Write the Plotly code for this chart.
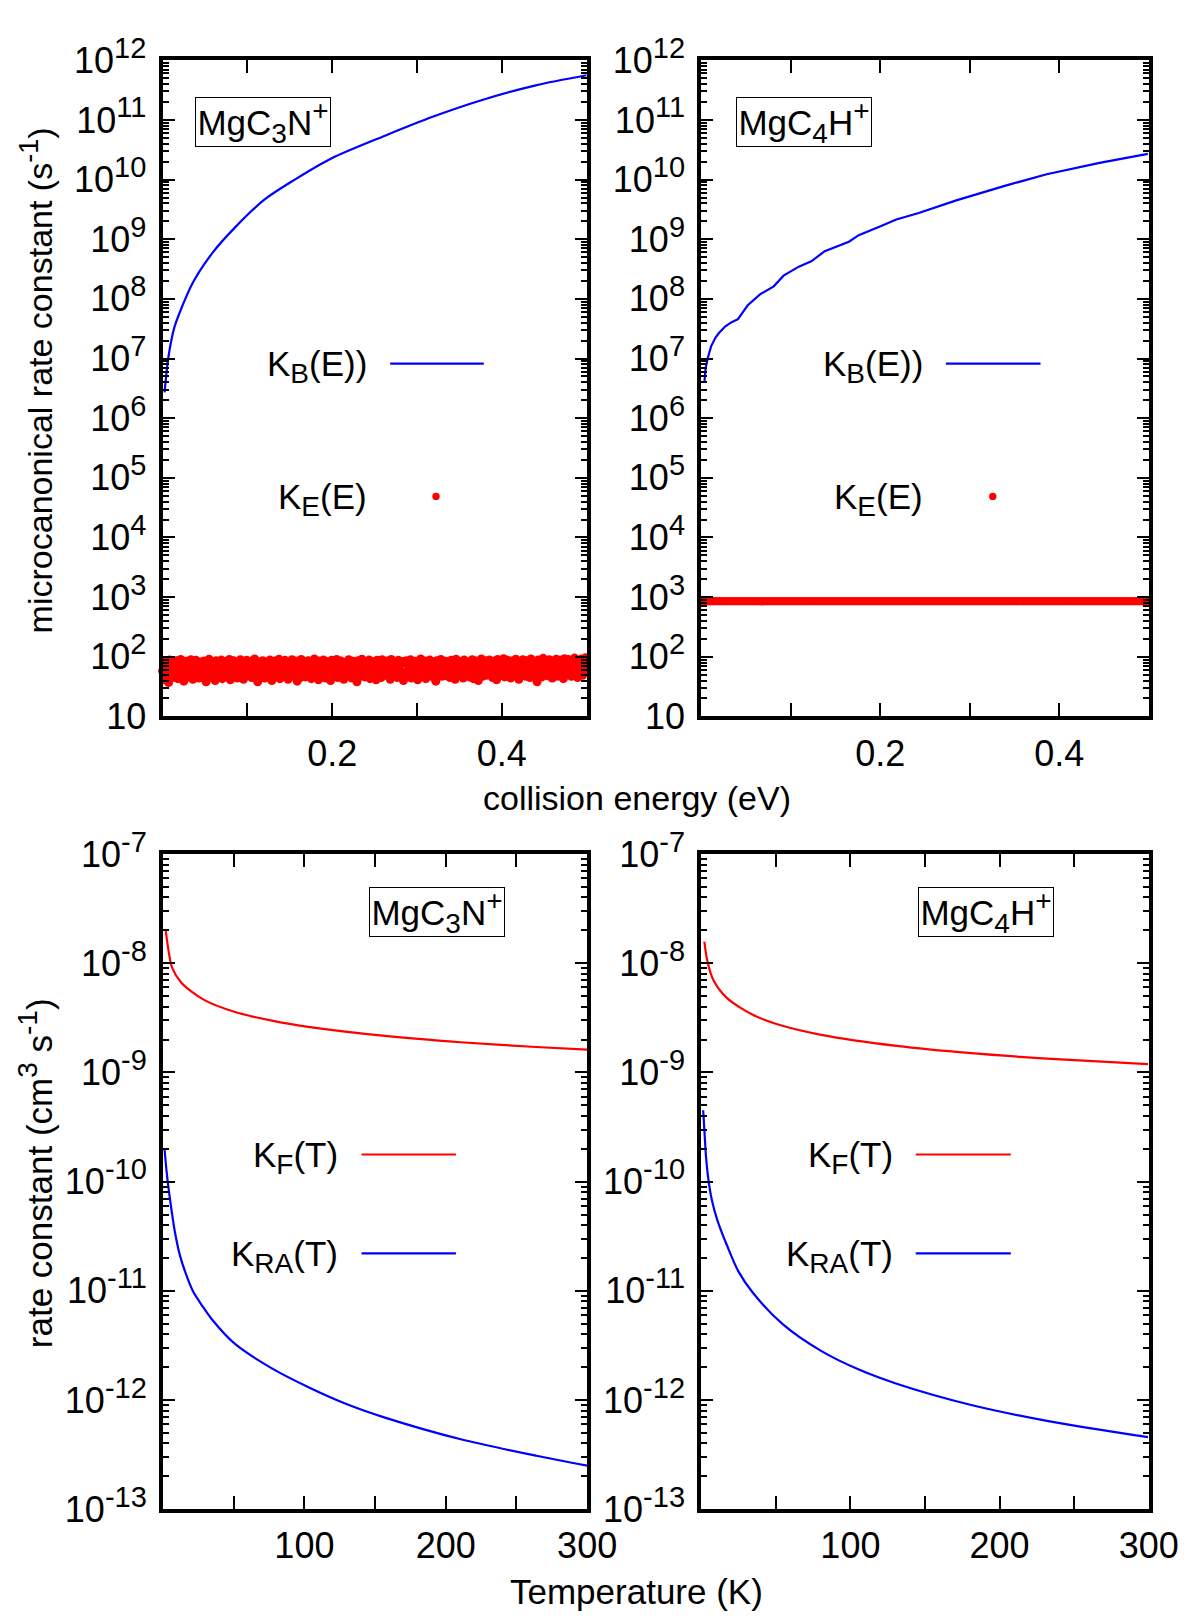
import numpy as np
import plotly.graph_objects as go

FONT = "Liberation Sans, Arial, Helvetica, sans-serif"
W, H = 1200, 1624
BLUE = "#0000ff"
RED = "#ff0000"

# ---------------- data ----------------
# top-left: MgC3N+  microcanonical rates vs collision energy (eV)
E_KB_C3N = [0.0024, 0.0069, 0.0136, 0.020, 0.036, 0.060, 0.085, 0.120, 0.156,
            0.200, 0.263, 0.320, 0.374, 0.440, 0.500]
KB_C3N = [2.7e6, 1.05e7, 3.2e7, 5.8e7, 1.9e8, 6.2e8, 1.55e9, 4.6e9, 1.0e10,
          2.3e10, 5.5e10, 1.15e11, 2.1e11, 3.8e11, 5.6e11]

KE_C3N = [
    58, 41, 83, 66, 49, 77, 37, 88, 54, 70, 45, 81, 62, 51, 86, 43, 73, 59, 90, 48,
    67, 39, 79, 56, 84, 46, 72, 61, 89, 52, 42, 76, 64, 87, 50, 69, 44, 82, 57, 74,
    47, 85, 60, 38, 78, 53, 91, 65, 45, 80, 55, 71, 40, 86, 63, 49, 75, 58, 88, 43,
    68, 52, 83, 46, 73, 61, 90, 41, 77, 56, 86, 48, 66, 80, 44, 71, 59, 89, 51, 64,
    42, 79, 57, 87, 49, 70, 63, 84, 45, 75, 54, 92, 47, 68, 38, 82, 60, 76, 50, 86,
    65, 44, 81, 55, 72, 48, 88, 62, 40, 78, 57, 85, 46, 69, 53, 91, 43, 74, 61, 83,
    49, 87, 58, 70, 42, 80, 64, 51, 89, 47, 73, 56, 84, 39, 77, 62, 45, 90, 54, 68,
    82, 46, 75, 60, 86, 50, 67, 43, 79, 57, 92, 48, 71, 63, 41, 85, 55, 74, 49, 88,
    59, 44, 83, 66, 52, 78, 40, 87, 61, 47, 76, 56, 90, 45, 70, 64, 85, 50, 73, 42,
    81, 58, 68, 48, 89, 54, 75, 44, 84, 62, 51, 79, 38, 86, 57, 72, 47, 91, 60, 66,
    46, 80, 63, 55, 88, 43, 74, 59, 83, 50, 70, 41, 87, 65, 53, 78, 45, 89, 56, 72,
    62, 49, 85, 57, 76, 42, 90, 61, 48, 81, 54, 69, 45, 87, 59, 74, 51, 83, 40, 79,
    55, 86, 47, 71, 64, 89, 44, 78, 58, 52, 84, 62, 41, 76, 67, 92, 48, 73, 57, 85,
    43, 77, 61, 50, 88, 56, 70, 46, 82, 65, 39, 86, 53, 74, 60, 90, 47, 80, 55, 68,
    84, 48, 72, 59, 45, 87, 63, 52, 79, 42, 91, 57, 69, 49, 83, 61, 75, 44, 88, 54,
    66, 51, 82, 46, 76, 58, 89, 43, 73, 62, 85, 50, 40, 80, 56, 92, 47, 71, 64, 86,
    49, 78, 60, 88, 53, 70, 45, 84, 57, 75, 41, 90, 63, 48, 81, 55, 68, 93, 46, 77,
    61, 87, 52, 73, 44, 85, 59, 67, 48, 91, 56, 79, 42, 83, 64, 50, 89, 58, 74, 47,
    86, 54, 70, 45, 92, 60, 77, 49, 83, 57, 38, 88, 65, 52, 80, 46, 94, 62, 72, 51,
    69, 48, 89, 58, 76, 44, 85, 63, 53, 91, 47, 78, 60, 87, 55, 71, 43, 93, 66, 82,
    50, 90, 62, 74, 47, 86, 57, 95, 52, 79, 45, 88, 64, 56, 92, 49, 84, 60, 96, 70,
]
E_KE_C3N = np.linspace(0.0, 0.5, len(KE_C3N))

# top-right: MgC4H+
E_KB_C4H = [0.0035, 0.005, 0.0076, 0.011, 0.016, 0.020, 0.027, 0.034, 0.041,
            0.052, 0.066, 0.081, 0.092, 0.109, 0.123, 0.138, 0.165, 0.176,
            0.201, 0.218, 0.243, 0.285, 0.340, 0.386, 0.445, 0.499]
KB_C4H = [3.9e6, 7.1e6, 1.05e7, 1.6e7, 2.24e7, 2.7e7, 3.47e7, 4.07e7, 4.57e7,
          7.8e7, 1.2e8, 1.62e8, 2.45e8, 3.47e8, 4.27e8, 6.3e8, 9.1e8, 1.17e9,
          1.66e9, 2.14e9, 2.75e9, 4.47e9, 7.9e9, 1.23e10, 1.9e10, 2.7e10]

KE_C4H_LEVEL = 850.0
N_KE_C4H = 320
E_KE_C4H = np.linspace(0.0, 0.5, N_KE_C4H)

# bottom-left: MgC3N+ thermal rate constants vs T (K)
T_KF_C3N = [1.9, 3.8, 6.4, 13.1, 29, 50.4, 77, 104, 157, 210.6, 264, 300]
KF_C3N = [2.0e-8, 1.33e-8, 9.1e-9, 6.6e-9, 4.62e-9, 3.6e-9, 2.98e-9, 2.6e-9,
          2.16e-9, 1.89e-9, 1.71e-9, 1.62e-9]
T_KRA_C3N = [1.1, 2.5, 4, 6, 8.5, 12, 16, 21, 28, 34.5, 50.5, 77, 104, 130.6,
             157, 210.6, 264, 300]
KRA_C3N = [1.96e-10, 1.25e-10, 8.5e-11, 5.5e-11, 3.4e-11, 2.1e-11, 1.45e-11,
           1.0e-11, 7.2e-12, 5.5e-12, 3.3e-12, 1.95e-12, 1.29e-12, 9.1e-13,
           6.9e-13, 4.37e-13, 3.09e-13, 2.51e-13]

# bottom-right: MgC4H+
T_KF_C4H = [2.1, 4.1, 8.4, 17.3, 34.9, 55, 80.5, 131, 181, 231.8, 299.5]
KF_C4H = [1.58e-8, 1.05e-8, 6.9e-9, 4.79e-9, 3.35e-9, 2.66e-9, 2.21e-9, 1.75e-9,
          1.5e-9, 1.34e-9, 1.19e-9]
T_KRA_C4H = [1.3, 2.1, 3.2, 4.6, 7, 10.9, 17.3, 25, 34.9, 55, 80.3, 105.7, 131,
             181, 231.8, 299.5]
KRA_C4H = [4.5e-10, 3.0e-10, 1.7e-10, 1.1e-10, 6.9e-11, 4.4e-11, 2.6e-11,
           1.5e-11, 9.5e-12, 4.9e-12, 2.82e-12, 1.9e-12, 1.41e-12, 9.0e-13,
           6.45e-13, 4.57e-13]

# tick labels
TOP_Y_EXP = list(range(1, 13))
BOT_Y_EXP = list(range(-13, -6))
TOP_X_TICKS = [0.1, 0.2, 0.3, 0.4]
TOP_X_TEXT = ["", "0.2", "", "0.4"]
BOT_X_TICKS = [50, 100, 150, 200, 250, 300]
BOT_X_TEXT = ["", "100", "", "200", "", "300"]

# ---------------- layout helpers ----------------
def px(v):
    return v / W


def py(v):
    return 1 - v / H


TL_X = [px(158.5), px(593.5)]
TR_X = [px(711), px(1170)]
BL_X = [px(159), px(594)]
BR_X = [px(711), px(1170)]
TOP_Y = [py(701), py(24)]
BOT_Y = [py(1519), py(843)]

TICK_SIZE = 36
SUP_SIZE = 29
SMALL = 28
tickfont = dict(family=FONT, size=TICK_SIZE, color="black")


def sup(s, size=SMALL):
    return f"<sup><span style='font-size:{size}px'>{s}</span></sup>"


def sub(s, size=SMALL):
    return f"<sub><span style='font-size:{size}px'>{s}</span></sub>"


def ylab(e):
    if e == 1:
        return "10"
    return "10" + sup(e, SUP_SIZE)


def xaxis(domain, rng, tv, tt, anchor):
    return dict(domain=domain, range=rng, anchor=anchor, showline=True,
                linewidth=4, linecolor="black", mirror="allticks",
                ticks="inside", ticklen=13, tickwidth=1.8, tickcolor="black",
                tickmode="array", tickvals=tv, ticktext=tt, tickfont=tickfont,
                showgrid=False, zeroline=False, ticklabelstandoff=2)


def yaxis(domain, exps, anchor):
    lo, hi = exps[0], exps[-1]
    minor = [m * 10.0 ** e for e in range(lo, hi) for m in range(2, 10)]
    return dict(domain=domain, type="log", range=[lo, hi], anchor=anchor,
                showline=True, linewidth=4, linecolor="black", mirror="allticks",
                ticks="inside", ticklen=12, tickwidth=1.8, tickcolor="black",
                tickmode="array", tickvals=[10.0 ** e for e in exps],
                ticktext=[ylab(e) for e in exps], tickfont=tickfont,
                minor=dict(tickmode="array", tickvals=minor, ticks="inside",
                           ticklen=6, tickwidth=1.5, tickcolor="black",
                           showgrid=False),
                showgrid=False, zeroline=False, ticklabelstandoff=5)


fig = go.Figure()

# top-left
fig.add_trace(go.Scatter(x=E_KE_C3N, y=KE_C3N, mode="markers", xaxis="x", yaxis="y",
                         marker=dict(color=RED, size=9, line=dict(width=0)),
                         cliponaxis=False, showlegend=False))
fig.add_trace(go.Scatter(x=E_KB_C3N, y=KB_C3N, mode="lines", xaxis="x", yaxis="y",
                         line=dict(color=BLUE, width=2.2, shape="spline", smoothing=0.8),
                         showlegend=False))
# top-right
fig.add_trace(go.Scatter(x=E_KE_C4H, y=np.full(N_KE_C4H, KE_C4H_LEVEL), mode="markers",
                         xaxis="x2", yaxis="y2",
                         marker=dict(color=RED, size=8, line=dict(width=0)),
                         cliponaxis=False, showlegend=False))
fig.add_trace(go.Scatter(x=E_KB_C4H, y=KB_C4H, mode="lines", xaxis="x2", yaxis="y2",
                         line=dict(color=BLUE, width=2.2), showlegend=False))
# bottom-left
fig.add_trace(go.Scatter(x=T_KF_C3N, y=KF_C3N, mode="lines", xaxis="x3", yaxis="y3",
                         line=dict(color=RED, width=2.2, shape="spline", smoothing=0.8),
                         showlegend=False))
fig.add_trace(go.Scatter(x=T_KRA_C3N, y=KRA_C3N, mode="lines", xaxis="x3", yaxis="y3",
                         line=dict(color=BLUE, width=2.2, shape="spline", smoothing=0.8),
                         showlegend=False))
# bottom-right
fig.add_trace(go.Scatter(x=T_KF_C4H, y=KF_C4H, mode="lines", xaxis="x4", yaxis="y4",
                         line=dict(color=RED, width=2.2, shape="spline", smoothing=0.8),
                         showlegend=False))
fig.add_trace(go.Scatter(x=T_KRA_C4H, y=KRA_C4H, mode="lines", xaxis="x4", yaxis="y4",
                         line=dict(color=BLUE, width=2.2, shape="spline", smoothing=0.8),
                         showlegend=False))

annotations = []
shapes = []


def text(x, y, s, xanchor="center", yanchor="middle", angle=0, size=35):
    annotations.append(dict(x=px(x), y=py(y), xref="paper", yref="paper", text=s,
                            showarrow=False, xanchor=xanchor, yanchor=yanchor,
                            textangle=angle,
                            font=dict(family=FONT, size=size, color="black")))


def boxed(x, y, s, w=134, h=48):
    annotations.append(dict(x=px(x), y=py(y), xref="paper", yref="paper", text=s,
                            showarrow=False, xanchor="center", yanchor="middle",
                            width=w, height=h, align="center", valign="middle",
                            bordercolor="black", borderwidth=1, borderpad=0,
                            bgcolor="white",
                            font=dict(family=FONT, size=35, color="black")))


def key_line(x0, x1, y, color):
    shapes.append(dict(type="line", xref="paper", yref="paper", x0=px(x0), x1=px(x1),
                       y0=py(y), y1=py(y), line=dict(color=color, width=2.2)))


def key_dot(x, y, color):
    r = 3.8
    shapes.append(dict(type="circle", xref="paper", yref="paper", x0=px(x - r), x1=px(x + r),
                       y0=py(y + r), y1=py(y - r), fillcolor=color, line=dict(width=0)))


C3N = "MgC" + sub("3") + "N" + sup("+")
C4H = "MgC" + sub("4") + "H" + sup("+")

# species labels
boxed(262, 88, C3N)
boxed(816, 88, C4H)
boxed(440.5, 903, C3N)
boxed(1003, 903, C4H)

# keys top
text(370, 340, "K" + sub("B") + "(E))", xanchor="right")
key_line(392, 488, 337, BLUE)
text(370, 477, "K" + sub("E") + "(E)", xanchor="right")
key_dot(439, 474, RED)
text(941, 340, "K" + sub("B") + "(E))", xanchor="right")
key_line(962, 1059, 337, BLUE)
text(941, 477, "K" + sub("E") + "(E)", xanchor="right")
key_dot(1010, 474, RED)

# keys bottom
text(340.6, 1156, "K" + sub("F") + "(T)", xanchor="right")
key_line(362.6, 459.4, 1153, RED)
text(340.6, 1258, "K" + sub("RA") + "(T)", xanchor="right")
key_line(362.6, 459.4, 1255, BLUE)
text(909.7, 1156, "K" + sub("F") + "(T)", xanchor="right")
key_line(931, 1028.5, 1153, RED)
text(909.7, 1258, "K" + sub("RA") + "(T)", xanchor="right")
key_line(931, 1028.5, 1255, BLUE)

# axis titles
text(29, 354, "microcanonical rate constant (s" + sup("-1", 27) + ")", angle=-90, size=34)
text(29, 1172, "rate constant (cm" + sup("3", 28) + " s" + sup("-1", 28) + ")", angle=-90)
text(645, 785, "collision energy (eV)", size=34)
text(645, 1604, "Temperature (K)", size=35)

fig.update_layout(
    width=W, height=H, margin=dict(l=0, r=0, t=0, b=0),
    paper_bgcolor="white", plot_bgcolor="white",
    showlegend=False,
    font=dict(family=FONT, size=35, color="black"),
    xaxis=xaxis(TL_X, [0, 0.5], TOP_X_TICKS, TOP_X_TEXT, "y"),
    yaxis=yaxis(TOP_Y, TOP_Y_EXP, "x"),
    xaxis2=xaxis(TR_X, [0, 0.5], TOP_X_TICKS, TOP_X_TEXT, "y2"),
    yaxis2=yaxis(TOP_Y, TOP_Y_EXP, "x2"),
    xaxis3=xaxis(BL_X, [0, 300], BOT_X_TICKS, BOT_X_TEXT, "y3"),
    yaxis3=yaxis(BOT_Y, BOT_Y_EXP, "x3"),
    xaxis4=xaxis(BR_X, [0, 300], BOT_X_TICKS, BOT_X_TEXT, "y4"),
    yaxis4=yaxis(BOT_Y, BOT_Y_EXP, "x4"),
    annotations=annotations,
    shapes=shapes,
)

fig.write_html("out.html")
